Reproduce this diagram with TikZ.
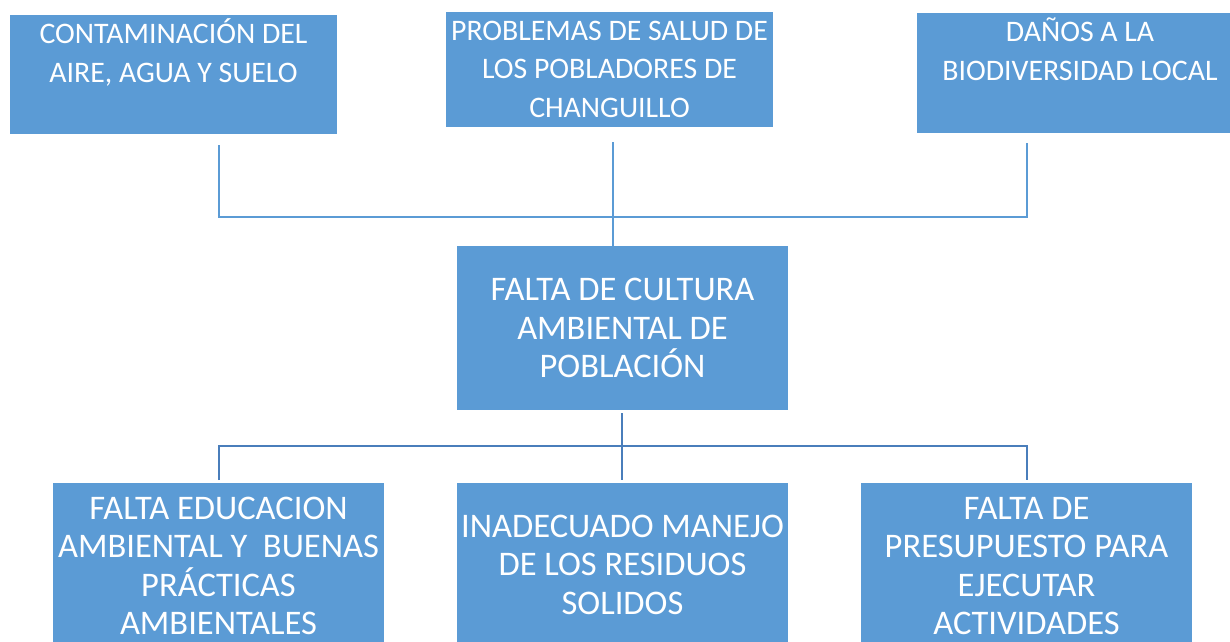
\documentclass[tikz,border=0pt]{standalone}
\usepackage{fontspec}
\setmainfont{Carlito}
\definecolor{boxblue}{HTML}{5B9BD5}
\definecolor{toplink}{HTML}{5B9BD5}
\definecolor{botlink}{HTML}{4A7EBB}
\newcommand\lns[1]{\vtop{\halign{\hfil##\hfil\cr#1\crcr}}}
\tikzset{
  box/.style={fill=boxblue, draw=none, rectangle, anchor=north west, inner sep=0pt},
  ttxt/.style={anchor=base, inner sep=0pt, text=white, font={\fontsize{29.8}{38.5}\selectfont}},
  btxt/.style={anchor=base, inner sep=0pt, text=white, font={\fontsize{34.5}{38.5}\selectfont}},
  toplinkstyle/.style={draw=toplink, line width=2pt},
  botlinkstyle/.style={draw=botlink, line width=2.5pt},
}
\begin{document}
\begin{tikzpicture}[x=1pt,y=-1pt]
\useasboundingbox (0,0) rectangle (1230,641);
% top boxes
\node[box, minimum width=327pt, minimum height=119pt] (c1) at (10,15) {};
\node[box, minimum width=327pt, minimum height=115pt] (c2) at (446,12) {};
\node[box, minimum width=313pt, minimum height=120pt] (c3) at (917,13) {};
\node[ttxt] (c1t) at (173.5,43.5) {\lns{CONTAMINACIÓN DEL\cr AIRE, AGUA Y SUELO}};
\node[ttxt] (c2t) at (609.5,40.4) {\lns{PROBLEMAS DE SALUD DE\cr LOS POBLADORES DE\cr CHANGUILLO}};
\node[ttxt] (c3t) at (1080,41.9) {\lns{DAÑOS A LA\cr BIODIVERSIDAD LOCAL}};
% core
\node[box, minimum width=331pt, minimum height=164pt] (core) at (457,246) {};
\node[btxt] (coret) at (622.5,300.6) {\lns{FALTA DE CULTURA\cr AMBIENTAL DE\cr POBLACIÓN}};
% bottom boxes
\node[box, minimum width=331pt, minimum height=170pt] (e1) at (53,483) {};
\node[box, minimum width=331pt, minimum height=170pt] (e2) at (457,483) {};
\node[box, minimum width=331pt, minimum height=170pt] (e3) at (861,483) {};
\node[btxt] (e1t) at (218.5,519) {\lns{FALTA EDUCACION\cr AMBIENTAL Y~ BUENAS\cr PRÁCTICAS\cr AMBIENTALES}};
\node[btxt] (e2t) at (622.5,537.3) {\lns{INADECUADO MANEJO\cr DE LOS RESIDUOS\cr SOLIDOS}};
\node[btxt] (e3t) at (1026.5,519) {\lns{FALTA DE\cr PRESUPUESTO PARA\cr EJECUTAR\cr ACTIVIDADES}};
% top connectors
\coordinate (a1) at (219,145);
\coordinate (j1) at (219,216.5);
\coordinate (j3) at (1027,216.5);
\coordinate (a3) at (1027,143);
\coordinate (a2) at (613,142);
\draw[toplinkstyle, line join=miter] (a1) -- (j1) -- (j3) -- (a3);
\draw[toplinkstyle] (a2) -- (a2 |- core.north);
% bottom connectors
\coordinate (b0) at (622,413);
\coordinate (b2) at (622,480);
\coordinate (k1) at (219,446);
\coordinate (k3) at (1027,446);
\coordinate (d1) at (219,480);
\coordinate (d3) at (1027,480);
\draw[botlinkstyle] (b0) -- (b2);
\draw[botlinkstyle, line join=miter] (d1) -- (k1) -- (k3) -- (d3);
\end{tikzpicture}
\end{document}
